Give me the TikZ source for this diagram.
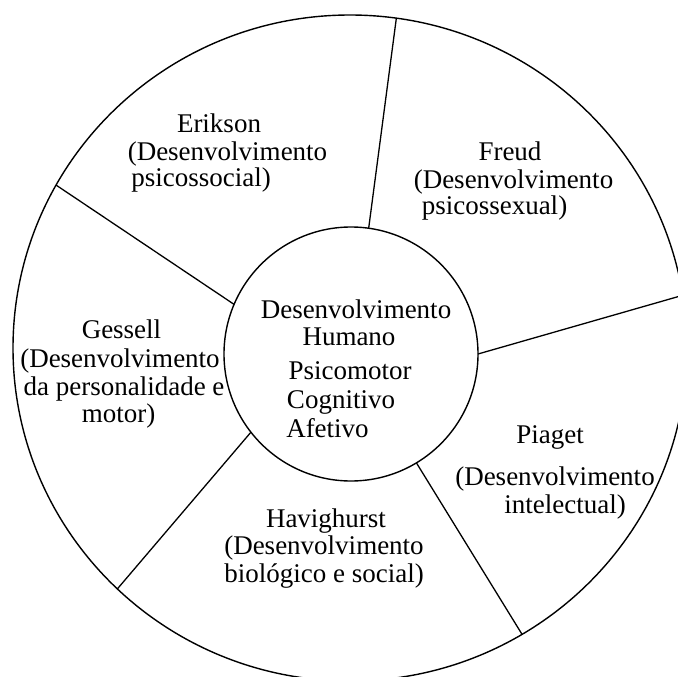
\documentclass[tikz,border=0pt]{standalone}
\usepackage{fontspec}
\setmainfont{Liberation Serif}
\usetikzlibrary{shapes.geometric}

\tikzset{
  ring/.style={draw=black, line width=1.4pt, inner sep=0pt, outer sep=0pt},
  spoke/.style={draw=black, line width=1.3pt},
  lbl/.style={anchor=base, inner sep=0pt, outer sep=0pt, font=\fontsize{27}{28}\selectfont}
}

\begin{document}
\begin{tikzpicture}[x=1pt, y=-1pt]
  \useasboundingbox (0,0) rectangle (678,677);
  \fill[white] (0,0) rectangle (678,677);

  % outer rim and central hub
  \node[ring, ellipse, minimum width=674pt, minimum height=666pt] (rim) at (350,348) {};
  \node[ring, circle, minimum size=254pt] (hub) at (351,354) {};

  % spokes dividing the five sectors
  \draw[spoke] (hub.82.7)   -- (rim.82.6);
  \draw[spoke] (hub.157.6)  -- (rim.151.7);
  \draw[spoke] (hub.-0.5)   -- (rim.9.8);
  \draw[spoke] (hub.-59.3)  -- (rim.-59.8);
  \draw[spoke] (hub.-142.5) -- (rim.-134.2);

  % centre
  \node[lbl] (c1) at (356,318) {Desenvolvimento};
  \node[lbl] (c2) at (349,345) {Humano};
  \node[lbl] (c3) at (350,379) {Psicomotor};
  \node[lbl] (c4) at (341,408) {Cognitivo};
  \node[lbl] (c5) at (327.5,437) {Afetivo};

  % Erikson
  \node[lbl] (e1) at (219,132) {Erikson};
  \node[lbl] (e2) at (227.5,160) {(Desenvolvimento};
  \node[lbl] (e3) at (201,186) {psicossocial)};

  % Freud
  \node[lbl] (f1) at (510,160) {Freud};
  \node[lbl] (f2) at (513.5,188) {(Desenvolvimento};
  \node[lbl] (f3) at (494.5,214) {psicossexual)};

  % Gessell
  \node[lbl] (g1) at (121.5,338) {Gessell};
  \node[lbl] (g2) at (120,367) {(Desenvolvimento};
  \node[lbl] (g3) at (124,395) {da personalidade e};
  \node[lbl] (g4) at (118.5,422) {motor)};

  % Piaget
  \node[lbl] (p1) at (550,443) {Piaget};
  \node[lbl] (p2) at (555,485) {(Desenvolvimento};
  \node[lbl] (p3) at (565,513) {intelectual)};

  % Havighurst
  \node[lbl] (h1) at (326,527) {Havighurst};
  \node[lbl] (h2) at (324,554) {(Desenvolvimento};
  \node[lbl] (h3) at (324,582) {biológico e social)};
\end{tikzpicture}
\end{document}
